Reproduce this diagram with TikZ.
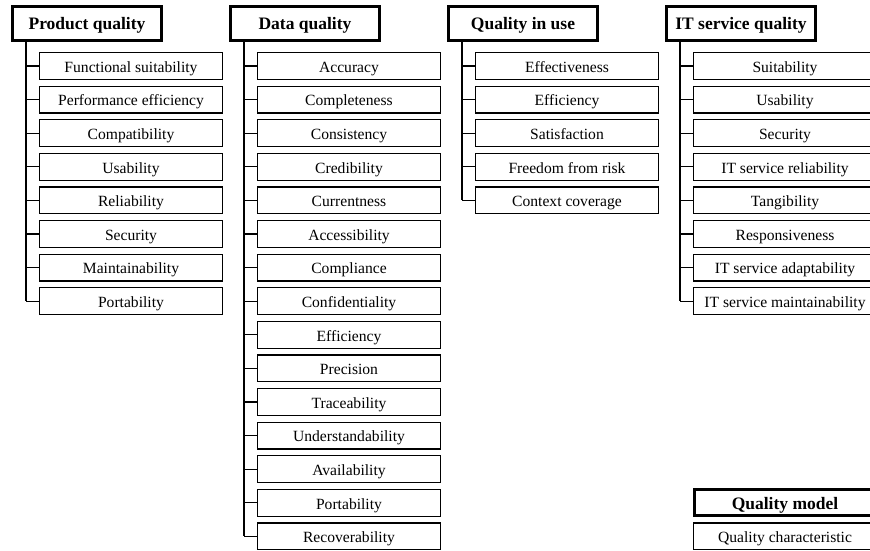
\documentclass[tikz,border=0pt]{standalone}
\usepackage{fontspec}
\setmainfont{Liberation Serif}
\usetikzlibrary{positioning}

\begin{document}
\begin{tikzpicture}[
    model/.style={
        rectangle,
        draw,
        line width=3pt,
        minimum width=149pt,
        minimum height=34pt,
        inner sep=0pt,
        text height=12pt,
        text depth=0pt,
        font=\bfseries\fontsize{17.5}{20}\selectfont
    },
    charac/.style={
        rectangle,
        draw,
        line width=1.2pt,
        minimum width=182.8pt,
        minimum height=26.8pt,
        inner sep=0pt,
        text height=12.6pt,
        text depth=0pt,
        font=\fontsize{15.6}{18}\selectfont
    },
    legbox/.style={charac, line width=3pt, minimum width=181pt,
        minimum height=26pt, text height=13pt,
        font=\bfseries\fontsize{17.5}{20}\selectfont},
    trunk/.style={line width=2pt},
    twig/.style={line width=1.3pt}
]

% Page frame
\clip (0,0) rectangle (870pt,-550pt);

% Quality models
\node[model] (pq) at (87pt,-23.5pt) {Product quality};
\node[model, right=66pt of pq] (dq) {Data quality};
\node[model, right=66pt of dq] (qu) {Quality in use};
\node[model, right=66pt of qu] (it) {IT service quality};

% Product quality
\node[charac, below right=10pt and 28pt of pq.south west] (pq1) {Functional suitability};
\node[charac, below=5.6pt of pq1] (pq2) {Performance efficiency};
\node[charac, below=5.6pt of pq2] (pq3) {Compatibility};
\node[charac, below=5.6pt of pq3] (pq4) {Usability};
\node[charac, below=5.6pt of pq4] (pq5) {Reliability};
\node[charac, below=5.6pt of pq5] (pq6) {Security};
\node[charac, below=5.6pt of pq6] (pq7) {Maintainability};
\node[charac, below=5.6pt of pq7] (pq8) {Portability};

% Data quality
\node[charac, below right=10pt and 28pt of dq.south west] (dq1) {Accuracy};
\node[charac, below=5.6pt of dq1] (dq2) {Completeness};
\node[charac, below=5.6pt of dq2] (dq3) {Consistency};
\node[charac, below=5.6pt of dq3] (dq4) {Credibility};
\node[charac, below=5.6pt of dq4] (dq5) {Currentness};
\node[charac, below=5.6pt of dq5] (dq6) {Accessibility};
\node[charac, below=5.6pt of dq6] (dq7) {Compliance};
\node[charac, below=5.6pt of dq7] (dq8) {Confidentiality};
\node[charac, below=5.6pt of dq8] (dq9) {Efficiency};
\node[charac, below=5.6pt of dq9] (dq10) {Precision};
\node[charac, below=5.6pt of dq10] (dq11) {Traceability};
\node[charac, below=5.6pt of dq11] (dq12) {Understandability};
\node[charac, below=5.6pt of dq12] (dq13) {Availability};
\node[charac, below=5.6pt of dq13] (dq14) {Portability};
\node[charac, below=5.6pt of dq14] (dq15) {Recoverability};

% Quality in use
\node[charac, below right=10pt and 28pt of qu.south west] (qu1) {Effectiveness};
\node[charac, below=5.6pt of qu1] (qu2) {Efficiency};
\node[charac, below=5.6pt of qu2] (qu3) {Satisfaction};
\node[charac, below=5.6pt of qu3] (qu4) {Freedom from risk};
\node[charac, below=5.6pt of qu4] (qu5) {Context coverage};

% IT service quality
\node[charac, below right=10pt and 28pt of it.south west] (it1) {Suitability};
\node[charac, below=5.6pt of it1] (it2) {Usability};
\node[charac, below=5.6pt of it2] (it3) {Security};
\node[charac, below=5.6pt of it3] (it4) {IT service reliability};
\node[charac, below=5.6pt of it4] (it5) {Tangibility};
\node[charac, below=5.6pt of it5] (it6) {Responsiveness};
\node[charac, below=5.6pt of it6] (it7) {IT service adaptability};
\node[charac, below=5.6pt of it7] (it8) {IT service maintainability};

% Legend
\node[legbox] (lgm) at (it1 |- dq14) {Quality model};
\node[charac] (lgc) at (it1 |- dq15) {Quality characteristic};

% Trunks
\coordinate (pqt) at ([xshift=15pt]pq.south west);
\coordinate (dqt) at ([xshift=15pt]dq.south west);
\coordinate (qut) at ([xshift=15pt]qu.south west);
\coordinate (itt) at ([xshift=15pt]it.south west);
\draw[trunk] (pqt) -- (pqt |- pq8.west);
\draw[trunk] (dqt) -- (dqt |- dq15.west);
\draw[trunk] (qut) -- (qut |- qu5.west);
\draw[trunk] (itt) -- (itt |- it8.west);

% Twigs
\draw[twig] (pqt |- pq1.west) -- (pq1.west);
\draw[twig] (pqt |- pq2.west) -- (pq2.west);
\draw[twig] (pqt |- pq3.west) -- (pq3.west);
\draw[twig] (pqt |- pq4.west) -- (pq4.west);
\draw[twig] (pqt |- pq5.west) -- (pq5.west);
\draw[twig] (pqt |- pq6.west) -- (pq6.west);
\draw[twig] (pqt |- pq7.west) -- (pq7.west);
\draw[twig] (pqt |- pq8.west) -- (pq8.west);

\draw[twig] (dqt |- dq1.west) -- (dq1.west);
\draw[twig] (dqt |- dq2.west) -- (dq2.west);
\draw[twig] (dqt |- dq3.west) -- (dq3.west);
\draw[twig] (dqt |- dq4.west) -- (dq4.west);
\draw[twig] (dqt |- dq5.west) -- (dq5.west);
\draw[twig] (dqt |- dq6.west) -- (dq6.west);
\draw[twig] (dqt |- dq7.west) -- (dq7.west);
\draw[twig] (dqt |- dq8.west) -- (dq8.west);
\draw[twig] (dqt |- dq9.west) -- (dq9.west);
\draw[twig] (dqt |- dq10.west) -- (dq10.west);
\draw[twig] (dqt |- dq11.west) -- (dq11.west);
\draw[twig] (dqt |- dq12.west) -- (dq12.west);
\draw[twig] (dqt |- dq13.west) -- (dq13.west);
\draw[twig] (dqt |- dq14.west) -- (dq14.west);
\draw[twig] (dqt |- dq15.west) -- (dq15.west);

\draw[twig] (qut |- qu1.west) -- (qu1.west);
\draw[twig] (qut |- qu2.west) -- (qu2.west);
\draw[twig] (qut |- qu3.west) -- (qu3.west);
\draw[twig] (qut |- qu4.west) -- (qu4.west);
\draw[twig] (qut |- qu5.west) -- (qu5.west);

\draw[twig] (itt |- it1.west) -- (it1.west);
\draw[twig] (itt |- it2.west) -- (it2.west);
\draw[twig] (itt |- it3.west) -- (it3.west);
\draw[twig] (itt |- it4.west) -- (it4.west);
\draw[twig] (itt |- it5.west) -- (it5.west);
\draw[twig] (itt |- it6.west) -- (it6.west);
\draw[twig] (itt |- it7.west) -- (it7.west);
\draw[twig] (itt |- it8.west) -- (it8.west);

\end{tikzpicture}
\end{document}
